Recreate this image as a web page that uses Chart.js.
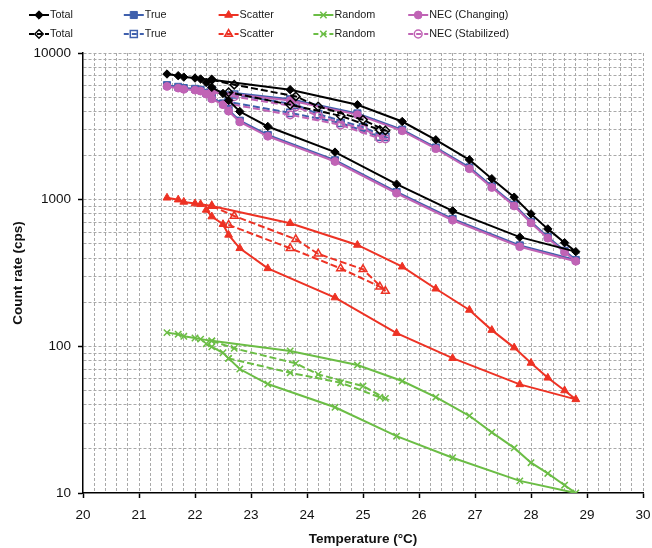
<!DOCTYPE html>
<html>
<head>
<meta charset="utf-8">
<script src="https://cdn.jsdelivr.net/npm/chart.js@4.4.1/dist/chart.umd.min.js"></script>
<style>
  body { margin: 0; background: #fff; }
  #wrap { width: 652px; height: 548px; }
</style>
</head>
<body>
<div id="wrap"><canvas id="rateChart" width="652" height="548"></canvas></div>
<script>
// Run while the temperature was still changing (heating up, then cooling back down)
const tempChanging    = [21.5, 21.7, 21.8, 22.0, 22.1, 22.3, 23.7, 24.9, 25.7, 26.3, 26.9, 27.3, 27.7, 28.0, 28.3, 28.6, 28.8, 27.8, 26.6, 25.6, 24.5, 23.3, 22.8, 22.6, 22.5, 22.3, 22.2];
const totalChanging   = [7190, 7000, 6850, 6750, 6650, 6570, 5620, 4440, 3410, 2560, 1870, 1390, 1040, 800, 632, 509, 442, 555, 839, 1276, 2110, 3155, 3990, 4750, 5300, 5830, 6300];
const trueChanging    = [6036, 5879, 5768, 5696, 5608, 5556, 4836, 3874, 3003, 2268, 1659, 1235, 922, 707, 557, 448, 388, 488, 739, 1129, 1857, 2760, 3454, 4092, 4530, 4964, 5345];
const scatterChanging = [1030, 1000, 965, 940, 930, 905, 691, 491, 349, 247, 177, 129, 98, 77, 61, 50, 43.5, 55, 83, 123, 215, 340, 466, 575, 680, 767, 851];
const randomChanging  = [124, 121, 117, 114, 112, 109, 93, 74.5, 58, 45, 33.6, 25.9, 20.3, 16.1, 13.6, 11.3, 10.0, 12.1, 17.4, 24.4, 38.4, 55.3, 70, 82.8, 90.4, 99.3, 104];
const necChanging     = [5915, 5760, 5650, 5580, 5495, 5445, 4740, 3800, 2945, 2225, 1625, 1210, 905, 693, 546, 439, 380, 478, 724, 1106, 1820, 2705, 3385, 4010, 4440, 4865, 5240];

// Readings taken once the temperature had stabilized
const tempStabilized    = [22.3, 22.7, 23.8, 24.2, 25.0, 25.4, 25.3, 24.6, 23.7, 22.6];
const totalStabilized   = [6570, 6080, 5060, 4320, 3510, 2960, 2990, 3730, 4440, 5400];
const trueStabilized    = [5556, 5209, 4446, 3829, 3121, 2678, 2690, 3333, 3908, 4644];
const scatterStabilized = [905, 774, 537, 427, 335, 238, 255, 340, 466, 673];
const randomStabilized  = [109, 96.9, 76.5, 64.4, 53.6, 44.2, 44.9, 56.5, 66, 82.8];
const necStabilized     = [5445, 5050, 4310, 3715, 3030, 2600, 2610, 3235, 3790, 4505];

const xMajorTicks = [20, 21, 22, 23, 24, 25, 26, 27, 28, 29, 30];
const yMajorTicks = [10, 100, 1000, 10000];

const FONT = '"Liberation Sans", Arial, Helvetica, sans-serif';
Chart.defaults.font.family = FONT;
Chart.defaults.color = '#111';

const BLACK = '#000000', BLUE = '#3f60ad', RED = '#ed3224', GREEN = '#6bbd45', PURPLE = '#c063b5';

// minor grid every 0.2 °C, log grid at 1..9 per decade
const xGrid = [];
for (let i = 0; i <= 50; i++) xGrid.push(Math.round((20 + i * 0.2) * 10) / 10);
const yGrid = [];
yMajorTicks.slice(0, -1).forEach(d => { for (let k = 1; k <= 9; k++) yGrid.push(k * d); });
yGrid.push(yMajorTicks[yMajorTicks.length - 1]);

function pairs(xs, ys) {
  return xs.map((x, i) => ({ x: x, y: ys[i] }));
}

function series(label, color, xs, ys, style, radius, stabilized, order) {
  return {
    label: label,
    data: pairs(xs, ys),
    borderColor: color,
    borderWidth: 2,
    borderDash: stabilized ? [7, 3] : [],
    pointStyle: style,
    pointRadius: radius,
    pointHoverRadius: radius,
    pointBorderColor: color,
    pointBackgroundColor: stabilized ? 'rgba(0,0,0,0)' : color,
    pointBorderWidth: stabilized || style === 'crossRot' ? 1.5 : 1,
    tension: 0,
    order: order
  };
}

const datasets = [
  series('Total', BLACK, tempChanging, totalChanging, 'rectRot', 4.2, false, 0),
  series('True', BLUE, tempChanging, trueChanging, 'rect', 5, false, 2),
  series('Scatter', RED, tempChanging, scatterChanging, 'triangle', 4.5, false, 0),
  series('Random', GREEN, tempChanging, randomChanging, 'crossRot', 4.5, false, 0),
  series('NEC (Changing)', PURPLE, tempChanging, necChanging, 'circle', 3.9, false, 1),
  series('Total', BLACK, tempStabilized, totalStabilized, 'rectRot', 4.2, true, 0),
  series('True', BLUE, tempStabilized, trueStabilized, 'rect', 5, true, 2),
  series('Scatter', RED, tempStabilized, scatterStabilized, 'triangle', 4.5, true, 0),
  series('Random', GREEN, tempStabilized, randomStabilized, 'crossRot', 4.5, true, 0),
  series('NEC (Stabilized)', PURPLE, tempStabilized, necStabilized, 'circle', 3.9, true, 1)
];

// two-row legend laid out in five fixed columns, line sample with marker
const gridLegend = {
  id: 'gridLegend',
  afterDraw(chart) {
    const ctx = chart.ctx;
    chart.data.datasets.forEach((ds, i) => {
      const x = 29 + (i % 5) * 94.8;
      const y = 15 + Math.floor(i / 5) * 19;
      ctx.save();
      ctx.strokeStyle = ds.borderColor;
      ctx.lineWidth = 2;
      ctx.setLineDash(ds.borderDash.length ? [5, 3] : []);
      ctx.beginPath();
      ctx.moveTo(x, y);
      ctx.lineTo(x + 20, y);
      ctx.stroke();
      ctx.setLineDash([]);
      ctx.fillStyle = ds.pointBackgroundColor;
      ctx.strokeStyle = ds.pointBorderColor;
      ctx.lineWidth = ds.pointBorderWidth;
      Chart.helpers.drawPoint(ctx, {
        pointStyle: ds.pointStyle,
        radius: ds.pointRadius,
        borderWidth: ds.pointBorderWidth,
        rotation: 0
      }, x + 10, y);
      ctx.fillStyle = '#1a1a1a';
      ctx.font = '10.8px ' + FONT;
      ctx.textBaseline = 'middle';
      ctx.textAlign = 'left';
      ctx.fillText(ds.label, x + 21, y + 0.5);
      ctx.restore();
    });
  }
};

const gridColor = '#a9a9a9';

new Chart(document.getElementById('rateChart'), {
  type: 'line',
  data: { datasets: datasets },
  plugins: [gridLegend],
  options: {
    responsive: false,
    animation: false,
    layout: { padding: { top: 53, right: 9, left: 0, bottom: 0 } },
    plugins: {
      legend: { display: false },
      tooltip: { enabled: false }
    },
    scales: {
      x: {
        type: 'linear',
        min: 20,
        max: 30,
        afterBuildTicks: s => { s.ticks = xGrid.map(v => ({ value: v })); },
        afterFit: s => { s.height = 55; s.paddingRight = 0; s.paddingLeft = 0; },
        ticks: {
          autoSkip: false,
          maxRotation: 0,
          padding: 9,
          font: { size: 13.5 },
          callback: v => xMajorTicks.includes(v) ? String(v) : ''
        },
        grid: {
          color: c => c.tick && c.tick.value === 20 ? 'rgba(0,0,0,0)' : gridColor,
          lineWidth: 1,
          tickLength: 5,
          tickWidth: 1.5,
          tickColor: c => c.tick && xMajorTicks.includes(c.tick.value) ? '#000' : 'rgba(0,0,0,0)'
        },
        border: { display: true, color: '#000', width: 1.5, dash: [3, 2] },
        title: {
          display: true,
          text: 'Temperature (°C)',
          font: { size: 13.5, weight: 'bold' },
          color: '#111',
          padding: { top: 0, bottom: 1 }
        }
      },
      y: {
        type: 'logarithmic',
        min: 10,
        max: 10000,
        afterBuildTicks: s => { s.ticks = yGrid.map(v => ({ value: v })); },
        afterFit: s => { s.width = 83; },
        ticks: {
          autoSkip: false,
          padding: 7,
          font: { size: 13.5 },
          callback: v => yMajorTicks.includes(v) ? String(v) : ''
        },
        grid: {
          color: c => c.tick && c.tick.value === 10 ? 'rgba(0,0,0,0)' : gridColor,
          lineWidth: 1,
          tickLength: 5,
          tickWidth: 1.5,
          tickColor: c => c.tick && yMajorTicks.includes(c.tick.value) ? '#000' : 'rgba(0,0,0,0)'
        },
        border: { display: true, color: '#000', width: 1.5, dash: [3, 2] },
        title: {
          display: true,
          text: 'Count rate (cps)',
          font: { size: 13.5, weight: 'bold' },
          color: '#111',
          padding: { top: 10, bottom: 0 }
        }
      }
    }
  }
});
</script>
</body>
</html>
